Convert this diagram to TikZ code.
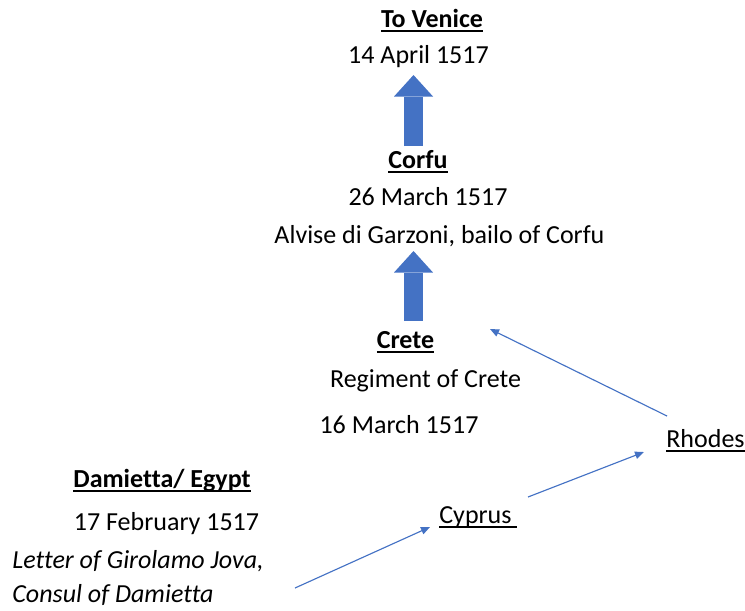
\documentclass[tikz,border=0pt]{standalone}
\usepackage{fontspec}
\setmainfont[Ligatures={NoCommon}]{Carlito}
\definecolor{officeblue}{RGB}{68,114,196}
\usepackage{tikz}
\usetikzlibrary{arrows.meta,positioning,calc}
\newcommand{\placeul}[1]{\setbox0=\hbox{#1}\rlap{\rule[-0.19em]{\wd0}{0.075em}}\box0}

\begin{document}
\begin{tikzpicture}[
  lbl/.style={inner sep=0pt, font=\fontsize{14.8}{17}\selectfont},
  place/.style={lbl, font=\fontsize{14.8}{17}\selectfont\bfseries},
  route/.style={-{Triangle[length=0.18cm, width=0.15cm]}, line width=0.65pt, officeblue},
  blockarrow/.style={-{Triangle[length=0.43cm, width=0.78cm, line width=0pt]}, line width=0.38cm, officeblue}]
  \useasboundingbox (0,0) rectangle (14.9,-12.2);
  \node[place, anchor=base] (venice) at (8.64,-0.54) {\placeul{To Venice}};
  \node[lbl, anchor=base] (april) at (8.37,-1.26) {14 April 1517};
  \node[place, anchor=base] (corfu) at (8.36,-3.36) {\placeul{Corfu}};
  \node[lbl, anchor=base] (corfudate) at (8.56,-4.10) {26 March 1517};
  \node[lbl, anchor=base] (bailo) at (8.79,-4.86) {Alvise di Garzoni, bailo of Corfu};
  \node[place, anchor=base] (crete) at (8.11,-6.96) {\placeul{Crete}};
  \node[lbl, anchor=base] (regiment) at (8.51,-7.74) {Regiment of Crete};
  \node[lbl, anchor=base] (cretedate) at (7.98,-8.66) {16 March 1517};
  \node[lbl, anchor=base west] (rhodes) at (13.32,-8.94) {\placeul{Rhodes}};
  \node[lbl, anchor=base west] (cyprus) at (8.78,-10.46) {\placeul{Cyprus\ }};
  \node[place, anchor=base] (damietta) at (3.24,-9.74) {\placeul{Damietta/ Egypt}};
  \node[lbl, anchor=base] (febdate) at (3.33,-10.60) {17 February 1517};
  \node[lbl, anchor=base west, font=\fontsize{14.8}{17}\selectfont\itshape] (letter) at (0.24,-11.36) {Letter of Girolamo Jova,};
  \node[lbl, anchor=base west, font=\fontsize{14.8}{17}\selectfont\itshape] (consul) at (0.24,-12.04) {Consul of Damietta};

  \coordinate (crete-up) at (8.27,-6.42);
  \coordinate (corfu-in) at (8.27,-5.02);
  \coordinate (corfu-up) at (8.27,-2.92);
  \coordinate (venice-in) at (8.27,-1.50);
  \draw[blockarrow] (crete-up) -- (corfu-in);
  \draw[blockarrow] (corfu-up) -- (venice-in);

  \coordinate (letter-out) at (5.90,-11.76);
  \coordinate (cyprus-in) at (8.60,-10.54);
  \coordinate (cyprus-out) at (10.56,-9.94);
  \coordinate (rhodes-in) at (12.88,-9.04);
  \coordinate (rhodes-out) at (13.34,-8.32);
  \coordinate (crete-in) at (9.80,-6.58);
  \draw[route] (letter-out) -- (cyprus-in);
  \draw[route] (cyprus-out) -- (rhodes-in);
  \draw[route] (rhodes-out) -- (crete-in);
\end{tikzpicture}
\end{document}
